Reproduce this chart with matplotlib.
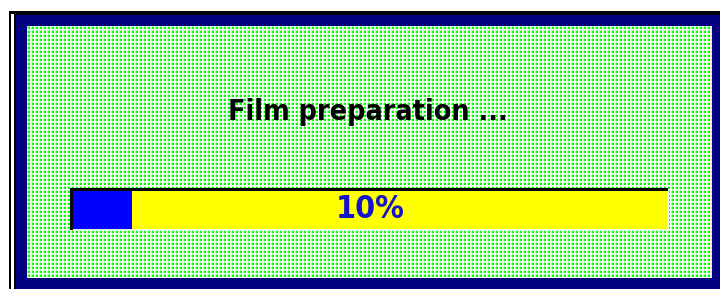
import numpy as np
import matplotlib
matplotlib.use('Agg')
import matplotlib.pyplot as plt
from matplotlib.patches import Rectangle

# data
title = 'Film preparation ...'
progress = [10]          # percent done
remaining = [100 - progress[0]]
label = f'{progress[0]}%'

W, H = 720, 289
fig = plt.figure(figsize=(W / 100, H / 100), dpi=100)
fig.patch.set_facecolor('white')

# pixel-space axes for the dialog frame
ax = fig.add_axes([0, 0, 1, 1])
ax.set_xlim(0, W)
ax.set_ylim(H, 0)
ax.axis('off')

# window frame
ax.add_patch(Rectangle((9, 11), W - 9, H - 11, color='black', lw=0))
ax.add_patch(Rectangle((11, 14), 3, H - 14, color='white', lw=0))
ax.add_patch(Rectangle((16, 15), W - 16, H - 15, color='#000080', lw=0))

# dotted green background
gx0, gx1, gy0, gy1 = 27, 712, 26, 278
tile = np.ones((4, 4, 3))
tile[1:3, 1:3] = [0.0, 1.0, 0.0]
tile[0, 1:3] = [0.6, 1.0, 0.6]
tile[1:3, 0] = [0.6, 1.0, 0.6]
pat = np.tile(tile, ((gy1 - gy0) // 4 + 1, (gx1 - gx0) // 4 + 1, 1))
pat = pat[:gy1 - gy0, :gx1 - gx0]
ax.imshow(pat, extent=(gx0, gx1, gy1, gy0), interpolation='nearest',
          aspect='auto', zorder=2)
ax.set_xlim(0, W)
ax.set_ylim(H, 0)

ax.text(368, 112, title, ha='center', va='center', fontsize=20.5, fontweight='bold',
        fontstretch='condensed', color='black', family='DejaVu Sans', zorder=5)

# sunken edge of the progress bar
ax.add_patch(Rectangle((70, 188), 598, 42, color='black', lw=0, zorder=3))
ax.add_patch(Rectangle((73, 191), 596, 40, color='#e0ffe0', lw=0, zorder=3))

# progress bar itself
bx0, bx1, by0, by1 = 73, 667, 191, 229
bax = fig.add_axes([bx0 / W, 1 - by1 / H, (bx1 - bx0) / W, (by1 - by0) / H])
bax.barh(0, progress, height=1, color='#0000ff')
bax.barh(0, remaining, left=progress, height=1, color='#ffff00')
bax.set_xlim(0, 100)
bax.set_ylim(-0.5, 0.5)
bax.axis('off')
bax.text(50, 0, label, ha='center', va='center', fontsize=23, fontweight='bold',
         fontstretch='condensed', color='#1414c8', family='DejaVu Sans')

fig.savefig('out.png', dpi=100)
